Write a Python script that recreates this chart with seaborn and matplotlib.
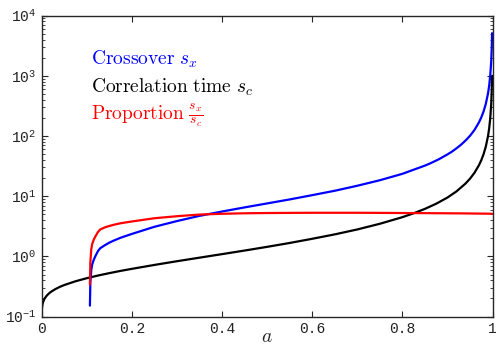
import matplotlib
matplotlib.use("Agg")
import matplotlib.pyplot as plt
import seaborn as sns

# a-grid and values
a_corr = [0.0001, 0.0003, 0.0005, 0.001, 0.002, 0.003, 0.006, 0.01, 0.015,
          0.02, 0.03, 0.04, 0.05, 0.075, 0.1, 0.125, 0.15, 0.175, 0.2, 0.25,
          0.3, 0.35, 0.4, 0.45, 0.5, 0.55, 0.6, 0.65, 0.7, 0.75, 0.8, 0.825,
          0.85, 0.875, 0.9, 0.92, 0.94, 0.95, 0.96, 0.97, 0.975, 0.98, 0.985,
          0.99, 0.9925, 0.995, 0.997, 0.998, 0.999]
corr_time = [0.109, 0.123, 0.132, 0.145, 0.161, 0.172, 0.196, 0.217, 0.238,
             0.256, 0.285, 0.311, 0.334, 0.386, 0.434, 0.481, 0.527, 0.574,
             0.621, 0.721, 0.831, 0.952, 1.09, 1.25, 1.44, 1.67, 1.96, 2.32,
             2.80, 3.48, 4.48, 5.20, 6.15, 7.49, 9.49, 12.0, 16.2, 19.5, 24.5,
             32.8, 39.5, 49.5, 66.2, 99.5, 132.8, 199.5, 333, 499.5, 999.5]

a_cross = [0.107, 0.108, 0.11, 0.112, 0.115, 0.117, 0.12, 0.125, 0.13, 0.14,
           0.15, 0.16, 0.175, 0.2, 0.25, 0.3, 0.35, 0.4, 0.45, 0.5, 0.55, 0.6,
           0.65, 0.7, 0.75, 0.8, 0.85, 0.86, 0.88, 0.9, 0.91, 0.92, 0.93, 0.94,
           0.95, 0.96, 0.97, 0.975, 0.98, 0.985, 0.99, 0.9925, 0.995, 0.997,
           0.998, 0.9985, 0.999]
crossover = [0.152, 0.36, 0.59, 0.73, 0.855, 0.93, 1.04, 1.23, 1.37, 1.53,
             1.69, 1.83, 2.04, 2.36, 3.10, 3.86, 4.71, 5.56, 6.51, 7.58, 8.83,
             10.4, 12.3, 14.9, 18.4, 23.5, 32.2, 34.6, 40.7, 49.4, 55.0, 62.3,
             71.4, 83.8, 100.6, 126, 169, 203, 254, 339, 509, 679, 1019, 1700,
             2547, 3397, 5097]
proportion = [0.34, 0.8, 1.3, 1.6, 1.85, 2.0, 2.2, 2.55, 2.8, 3.03, 3.2, 3.35,
              3.55, 3.8, 4.3, 4.65, 4.95, 5.1, 5.2, 5.25, 5.28, 5.3, 5.3, 5.3,
              5.28, 5.25, 5.23, 5.22, 5.21, 5.2, 5.19, 5.19, 5.18, 5.17, 5.16,
              5.15, 5.14, 5.135, 5.13, 5.125, 5.12, 5.115, 5.11, 5.105, 5.1,
              5.1, 5.1]

x_ticks = [0, 0.2, 0.4, 0.6, 0.8, 1]
x_labels = ["0", "0.2", "0.4", "0.6", "0.8", "1"]
y_ticks = [0.1, 1, 10, 100, 1000, 10000]
y_labels = [r"$10^{-1}$", r"$10^{0}$", r"$10^{1}$", r"$10^{2}$", r"$10^{3}$", r"$10^{4}$"]

sns.set_style("ticks")
plt.rcParams["font.family"] = ["Liberation Mono", "DejaVu Sans"]
plt.rcParams["mathtext.fontset"] = "custom"
plt.rcParams["mathtext.rm"] = "Liberation Mono"
plt.rcParams["mathtext.it"] = "Liberation Mono"

fig = plt.figure(figsize=(4.96, 3.46), dpi=100)
ax = fig.add_axes([0.084, 0.085, 0.909, 0.87])

sns.lineplot(x=a_corr, y=corr_time, color="black", lw=1.6, ax=ax, sort=False, estimator=None)
sns.lineplot(x=a_cross, y=crossover, color="blue", lw=1.6, ax=ax, sort=False, estimator=None)
sns.lineplot(x=a_cross, y=proportion, color="red", lw=1.6, ax=ax, sort=False, estimator=None)

ax.set_yscale("log")
ax.set_xlim(0, 1)
ax.set_ylim(0.1, 10000)
ax.set_xticks(x_ticks)
ax.set_xticklabels(x_labels, fontsize=10.5, color="#222222")
ax.set_yticks(y_ticks)
ax.set_yticklabels(y_labels, fontsize=10.5, color="#222222")

ax.tick_params(which="both", direction="in", top=True, right=True)
ax.tick_params(which="major", length=4, width=0.8, pad=4)
ax.tick_params(which="minor", length=2.5, width=0.6)
ax.tick_params(axis="x", which="minor", bottom=False, top=False)
for sp in ax.spines.values():
    sp.set_linewidth(1.0)

ax.set_xlabel(r"$a$", fontsize=14, math_fontfamily="cm", labelpad=-5)
ax.set_ylabel("")

ax.text(0.11, 0.838, r"$\mathrm{Crossover}\ s_x$", color="blue", fontsize=14,
        math_fontfamily="cm", transform=ax.transAxes, va="baseline")
ax.text(0.11, 0.745, r"$\mathrm{Correlation\ time}\ s_c$", color="black", fontsize=14,
        math_fontfamily="cm", transform=ax.transAxes, va="baseline")
ax.text(0.11, 0.652, r"$\mathrm{Proportion}\ \frac{s_x}{s_c}$", color="red", fontsize=14,
        math_fontfamily="cm", transform=ax.transAxes, va="baseline")

fig.savefig("out.png", dpi=100)
